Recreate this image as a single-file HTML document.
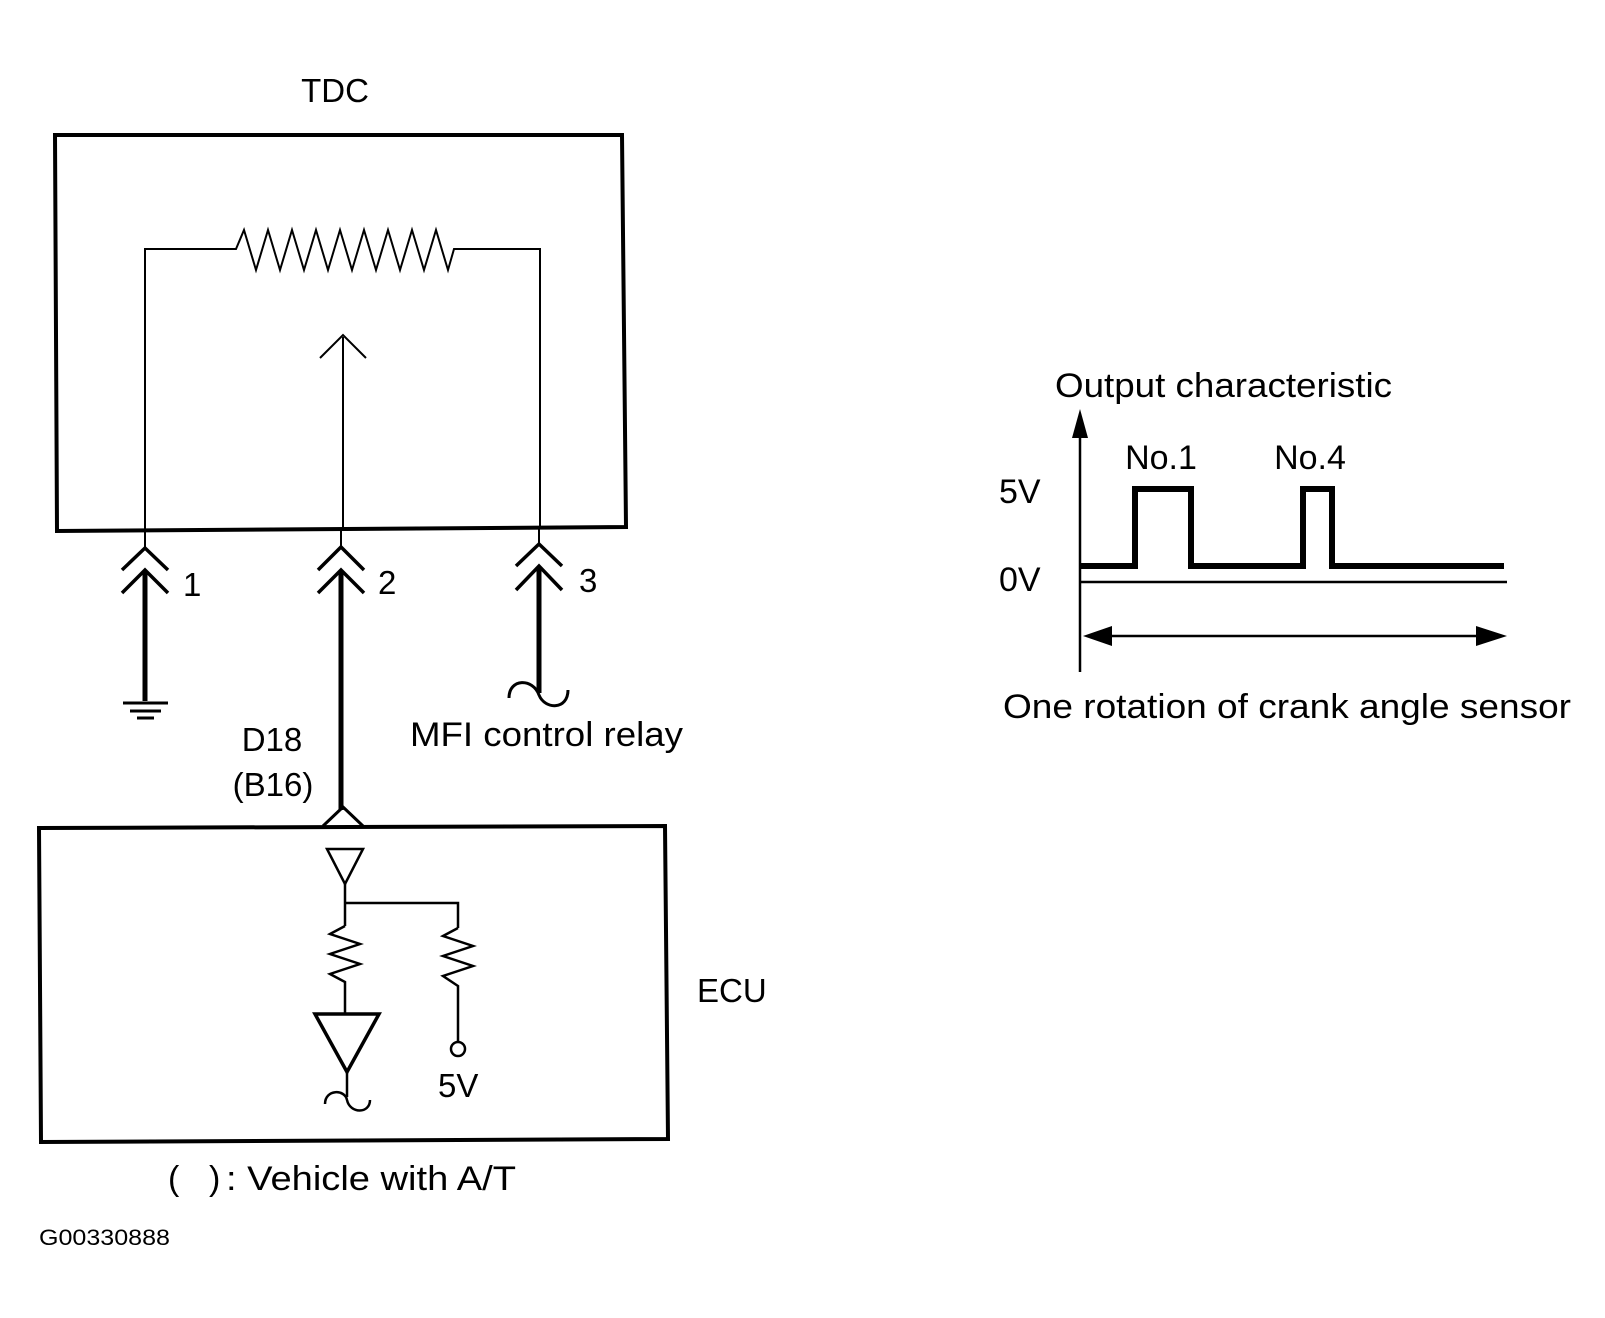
<!DOCTYPE html>
<html><head><style>html,body{margin:0;padding:0;background:#fff}svg{display:block}</style></head><body>
<svg width="1605" height="1318" viewBox="0 0 1605 1318" xmlns="http://www.w3.org/2000/svg" font-family="Liberation Sans, sans-serif" fill="none" stroke="#000">
<g stroke-width="4">
<polygon points="55,135 622,135 626,527 57,531"/>
</g>
<g stroke-width="2">
<polyline points="145,529 145,249 236,249 244,230 256,270 268,230 280,270 292,230 304,270 316,230 328,270 340,230 352,270 364,230 376,270 388,230 400,270 412,230 424,270 436,230 448,270 454,249 540,249 540,527"/>
<line x1="343" y1="529" x2="343" y2="337"/>
<polyline points="320,358 343,335 366,358"/>
</g>
<g stroke-width="3.5">
<polyline points="122,570 145,548 168,570"/><polyline points="122,593 145,570 168,593"/>
<polyline points="318,570 341,547 364,570"/><polyline points="318,593 341,570 364,593"/>
<polyline points="516,566 539,544 562,566"/><polyline points="516,590 539,566 562,590"/>
</g>
<g stroke-width="2"><line x1="145" y1="529" x2="145" y2="548"/><line x1="341" y1="529" x2="341" y2="547"/><line x1="539" y1="527" x2="539" y2="544"/></g>
<g stroke-width="5">
<line x1="145" y1="571" x2="145" y2="701"/>
<line x1="341" y1="571" x2="341" y2="810"/>
<line x1="539" y1="568" x2="539" y2="693"/>
</g>
<g stroke-width="3">
<line x1="123" y1="703" x2="168" y2="703"/><line x1="130" y1="711" x2="161" y2="711"/><line x1="137" y1="718" x2="154" y2="718"/>
<path d="M509,698 C509,678 533,678 539,695 C545,710 568,710 568,690"/>
</g>
<g transform="translate(0,-8)">
<polygon points="39,836 665,834 668,1147 41,1150" stroke-width="4"/>
<polyline points="323,834 343,815 363,834" stroke-width="3"/>
<g stroke-width="2.5">
<polygon points="327,857 363,857 345,892"/>
<polyline points="345,892 345,934"/>
<polyline points="345,911 458,911 458,936"/>
<polyline points="345,934 330,942 360,952 330,962 360,972 330,982 345,990 345,1022"/>
<polyline points="458,936 443,944 473,954 443,964 473,974 443,984 458,994 458,1050"/>
<circle cx="458" cy="1057" r="7"/>
<polygon points="315,1022 379,1022 347,1080" stroke-width="3.5"/>
<line x1="347" y1="1080" x2="347" y2="1105"/>
<path d="M325,1112 C325,1097 345,1097 347,1108 C350,1122 370,1122 370,1108"/>
</g>
<g fill="#000" stroke="none">
<text x="697" y="1010" font-size="33">ECU</text>
<text x="438" y="1105" font-size="33">5V</text>
<text x="168" y="1198" font-size="34">(</text>
<text x="209" y="1198" font-size="34">)</text>
<text x="226" y="1198" font-size="34" textLength="290" lengthAdjust="spacingAndGlyphs">: Vehicle with A/T</text>
<text x="39" y="1253" font-size="22" textLength="131" lengthAdjust="spacingAndGlyphs">G00330888</text>
</g>
</g>
<!-- chart -->
<g transform="translate(-8,-4)">
<g stroke-width="2.5">
<line x1="1088" y1="676" x2="1088" y2="430"/>
<line x1="1088" y1="586" x2="1515" y2="586"/>
<line x1="1105" y1="640" x2="1497" y2="640"/>
</g>
<polygon points="1088,413 1080,442 1096,442" fill="#000" stroke="none"/>
<polygon points="1091,640 1120,630 1120,650" fill="#000" stroke="none"/>
<polygon points="1515,640 1484,630 1484,650" fill="#000" stroke="none"/>
<polyline points="1088,570 1143,570 1143,493 1199,493 1199,570 1311,570 1311,493 1340,493 1340,570 1512,570" stroke-width="6"/>
<g fill="#000" stroke="none" font-size="34">
<text x="1063" y="401" textLength="337" lengthAdjust="spacingAndGlyphs">Output characteristic</text>
<text x="1169" y="473" text-anchor="middle">No.1</text>
<text x="1318" y="473" text-anchor="middle">No.4</text>
<text x="1007" y="507">5V</text>
<text x="1007" y="595">0V</text>
<text x="1011" y="722" textLength="568" lengthAdjust="spacingAndGlyphs">One rotation of crank angle sensor</text>
</g>
</g>
<g fill="#000" stroke="none" font-size="33">
<text x="335" y="102" text-anchor="middle">TDC</text>
<text x="183" y="596" font-size="33">1</text>
<text x="378" y="594" font-size="33">2</text>
<text x="579" y="592" font-size="33">3</text>
<text x="272" y="751" text-anchor="middle" font-size="33">D18</text>
<text x="273" y="796" text-anchor="middle" font-size="33">(B16)</text>
<text x="410" y="746" font-size="34" textLength="273" lengthAdjust="spacingAndGlyphs">MFI control relay</text>
</g>
</svg>
</body></html>
